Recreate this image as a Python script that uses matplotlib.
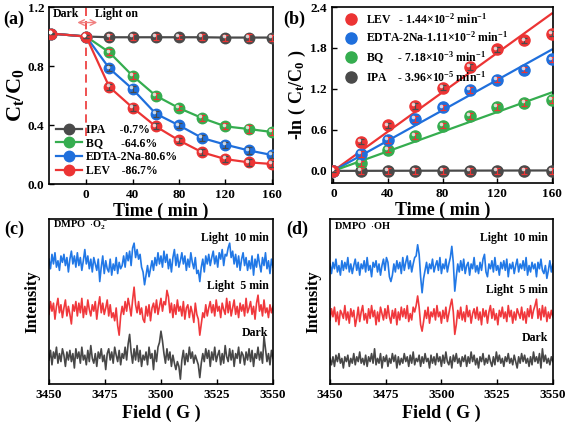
import numpy as np
import matplotlib
matplotlib.use('Agg')
import matplotlib.pyplot as plt
from matplotlib import transforms

plt.rcParams['font.family'] = ['Liberation Serif', 'DejaVu Serif']
plt.rcParams['font.weight'] = 'bold'
plt.rcParams['axes.labelweight'] = 'bold'
plt.rcParams['mathtext.fontset'] = 'custom'
plt.rcParams['mathtext.rm'] = 'Liberation Serif:bold'
plt.rcParams['mathtext.bf'] = 'Liberation Serif:bold'
plt.rcParams['mathtext.it'] = 'Liberation Serif:bold'
plt.rcParams['mathtext.default'] = 'bf'

# ---- panel (a): C/C0 vs time ----
time_a = [-30, 0, 20, 40, 60, 80, 100, 120, 140, 160]
ipa_c = [1.02, 1.00, 0.995, 0.995, 0.995, 0.995, 0.995, 0.993, 0.993, 0.993]
bq_c = [1.02, 1.00, 0.893, 0.734, 0.599, 0.515, 0.447, 0.391, 0.373, 0.353]
edta_c = [1.02, 1.00, 0.784, 0.644, 0.477, 0.398, 0.312, 0.267, 0.228, 0.197]
lev_c = [1.02, 1.00, 0.658, 0.518, 0.391, 0.296, 0.215, 0.169, 0.147, 0.136]
err_a = [0.005, 0.01, 0.02, 0.02, 0.02, 0.015, 0.02, 0.02, 0.025, 0.02]

# ---- panel (b): -ln(C/C0) vs time ----
time_b = [0, 20, 40, 60, 80, 100, 120, 140, 160]
lev_ln = [0.0, 0.428, 0.666, 0.948, 1.221, 1.522, 1.780, 1.911, 2.009]
edta_ln = [0.0, 0.248, 0.452, 0.759, 0.929, 1.182, 1.338, 1.483, 1.634]
bq_ln = [0.0, 0.112, 0.311, 0.511, 0.661, 0.807, 0.939, 0.997, 1.036]
ipa_ln = [0.0, 0.0, 0.0, 0.0, 0.0, 0.0, 0.0, 0.0, 0.0]
err_b = [0.01, 0.04, 0.04, 0.04, 0.04, 0.04, 0.04, 0.04, 0.04]
rate_k = {'LEV': 1.44e-2, 'EDTA-2Na': 1.11e-2, 'BQ': 7.18e-3, 'IPA': 3.96e-5}

# ---- panels (c),(d): EPR spectra (relative intensity) ----
field_start, field_end = 3450, 3550
o2_light10 = [2, -4, 5, -1, 6, -3, 1, -5, 4, 0,
              5, -2, 3, -6, 2, 7, -1, 4, -3, 6,
              -2, 3, -5, 1, 8, -1, 4, -4, 2, -6,
              3, -1, -5, 2, -12, -3, 4, -7, 1, -4,
              -6, 2, -8, -1, -5, 3, -7, 0, -4, -2,
              4, -3, 6, 1, 7, -2, 9, 12, 3, 8,
              2, 5, -3, -6, -14, -8, -2, -9, -4, 1,
              -5, 3, -2, 6, -1, 4, -3, 7, 0, 5,
              -4, 2, -6, 3, 8, -2, 5, -3, 1, 6,
              -1, 4, -5, 2, -3, 6, 0, -4, 3, -7,
              -5, -12, -3, 2, -6, 4, -1, 5, -2, 3,
              7, -1, 4, -3, 6, 2, 8, -2, 5, 4,
              9, 12, 3, 7, -1, 5, -3, 4, -5, 2,
              6, -2, 3, -5, 1, -4, 4, -8, 2, -3,
              5, -1, -6, 3, -2, 6, -4, 1, -7, 2,
              -3]
o2_light5 = [-3, 5, -1, 4, -6, 2, 7, -2, 3, -5,
             1, 6, -4, 2, -3, -9, 3, -1, 5, -4,
             4, -2, 7, -5, 2, -3, 6, 0, -4, 3,
             -1, 5, -6, 2, 8, -2, 4, -3, 1, 6,
             -4, 3, -5, -2, -7, 1, -10, -16, -4, 2,
             -3, 5, -1, 7, 2, -4, 6, 14, 3, -2,
             5, -3, 1, -6, -8, 2, -4, 3, -7, 1,
             4, -2, 6, -3, 2, 7, -1, 5, 3, 12,
             8, -2, 4, -5, 3, -3, 6, -1, 2, -4,
             5, -6, 1, 3, -5, 2, -2, -8, 4, -3,
             -6, -16, -9, -2, -5, 3, -4, 1, 5, -2,
             3, -4, 6, -1, 2, -5, 4, 0, -3, 7,
             -2, 5, -4, 1, 6, -3, 2, -5, 4, -1,
             3, -4, 7, -2, 1, 5, -3, 2, -6, 4,
             9, -1, 3, -4, 6, -2, 1, -5, 3, -2,
             2]
o2_dark = [-2, 4, -5, 3, -1, 6, -4, 2, -3, 5,
           1, -6, 3, -2, 4, -3, 2, -7, 5, -1,
           3, -4, 6, -2, 1, -5, 4, -3, 7, -1,
           -4, 2, -6, 3, -1, 5, -3, 1, -8, 2,
           5, -2, 3, -4, 6, 1, -3, 4, -5, 2,
           -1, 6, -2, 8, 14, 3, -4, 5, -2, 7,
           -3, 4, -6, 1, -2, 3, -5, 6, -1, 2,
           -8, 4, -3, 6, 9, 16, 10, 2, -4, 5,
           -2, 3, -6, 1, -4, -8, -3, -6, -14, -2,
           4, -5, 2, -3, 6, -1, 3, -4, 1, -2,
           -5, -13, -4, 2, -3, 5, -1, 4, -6, 3,
           -2, 6, -3, 1, 4, -5, 2, -4, 7, 0,
           -3, 5, -2, 4, -6, 2, -1, 6, -4, 3,
           1, -5, 3, -2, 5, -3, 4, -6, 2, -1,
           6, -2, 3, -4, 13, 5, -3, 2, -5, 4,
           -1]
oh_light10 = [2, -4, 3, -1, 5, -3, 1, -5, 4, -2,
              3, -1, 6, -3, 2, -4, 1, 5, -2, 3,
              -5, 2, -1, 4, -3, 6, -2, 1, -6, 3,
              0, 4, -3, 2, -5, 1, 5, -2, 6, 3,
              -6, -9, -5, 2, -3, 4, -1, 3, -4, 6,
              -2, 3, 7, -1, 4, -3, 2, 6, 7, 14,
              8, -6, -16, -7, -2, 3, -4, 2, -1, 5,
              -3, 1, 4, -2, 6, -4, 2, -1, 5, -3,
              2, 6, 13, 3, -15, -6, 2, -3, 4, -2,
              5, -4, 1, 3, -5, 2, -1, 6, -3, 1,
              -4, 3, -2, 5, 8, -3, -6, 2, -1, 4,
              -3, 6, -2, 1, -5, 3, -1, 4, -2, 5,
              -6, 2, -1, 3, -4, 1, 5, -3, 2, -1,
              4, -2, 6, -5, 1, -3, 3, -1, 2, -6,
              3, -1, 5, -2, -4, 1, -7, -2, 4, -3,
              2]
oh_light5 = [-3, 4, -1, 5, -4, 2, -6, 3, 1, -2,
             6, -3, 2, -5, 4, -1, 3, -7, -2, 5,
             -4, 2, 6, -3, 1, -5, 4, -2, 6, -1,
             3, -6, 2, -4, 5, 1, -3, 4, -2, 6,
             -1, -5, 3, -2, 4, -6, 2, -3, 5, -1,
             4, -2, 6, -4, 1, -3, 5, 2, 6, 12,
             5, -6, -10, -4, 3, -2, 5, -5, 2, -1,
             4, -3, 6, -1, 2, -5, 3, -2, 5, -4,
             1, 6, 10, 2, -12, -6, 3, -2, 5, -3,
             2, -4, 6, -1, 3, -5, 1, 4, -2, 5,
             -3, 2, -6, 4, -1, 3, -5, 2, 6, -2,
             4, -3, 1, -6, 3, -1, 5, -2, 2, -4,
             6, -1, 3, -5, 2, -3, 4, 1, -2, 5,
             -3, 2, -5, 4, -1, 6, -2, 3, 6, 10,
             -2, 4, -3, 6, -1, 5, -4, 2, -2, 3,
             -1]
oh_dark = [1, -3, 2, -4, 3, -1, 4, -2, 1, -5,
           2, -1, 3, -4, 1, -2, 4, -3, 2, -1,
           5, -2, 1, -3, 3, -4, 2, -1, 4, -2,
           7, -3, 1, -2, 4, -5, 2, -1, 3, -4,
           1, -2, 4, -1, 3, -5, 2, -3, 1, -2,
           4, -1, 2, -4, 3, -2, 5, -3, 1, -1,
           3, -4, 2, -2, 4, -1, 1, -5, 3, -2,
           2, -3, 4, -1, 2, -4, 3, -2, 5, -1,
           -3, 2, -5, 3, -1, 4, -2, 1, -4, 2,
           -1, 3, -4, 2, -2, 5, -1, 3, -3, 1,
           -5, 2, -1, 4, -3, 1, -2, 3, -1, -4,
           2, -3, 5, -1, 3, -2, 1, -4, 2, -1,
           4, -2, 1, -3, 3, -1, -5, 2, -2, 4,
           -1, 3, -2, 1, -4, 2, -3, 5, -1, 2,
           -2, 4, -5, 7, -1, 3, -2, 1, -3, 2,
           -1]

RED = '#ec3434'
BLUE = '#1f6fdc'
GREEN = '#35ad4f'
DARK = '#4a4a4a'
EPR_BLUE = '#2178e6'
EPR_RED = '#f0383c'
EPR_DARK = '#474747'


def style_axis(ax):
    ax.tick_params(direction='in', labelsize=9.5, width=1.0, length=3.5)
    for s in ax.spines.values():
        s.set_linewidth(1.2)
    for lab in ax.get_xticklabels() + ax.get_yticklabels():
        lab.set_fontweight('bold')


def shine(ax, x, y):
    # small white spot on each marker so they look like balls
    tr = transforms.offset_copy(ax.transData, fig=ax.figure, x=-1.3, y=1.3,
                                units='points')
    ax.plot(x, y, 'o', ms=2.6, color='white', alpha=0.75, mew=0,
            transform=tr, zorder=5)


fig = plt.figure(figsize=(5.67, 4.26), dpi=100)
ax_a = fig.add_axes([0.0864, 0.568, 0.395, 0.4155])
ax_b = fig.add_axes([0.5855, 0.570, 0.390, 0.4135])
ax_c = fig.add_axes([0.0864, 0.0986, 0.395, 0.387])
ax_d = fig.add_axes([0.582, 0.0986, 0.393, 0.387])

# ---- (a) ----
series_a = [('IPA     -0.7%', ipa_c, DARK, RED),
            ('BQ      -64.6%', bq_c, GREEN, RED),
            ('EDTA-2Na-80.6%', edta_c, BLUE, DARK),
            ('LEV    -86.7%', lev_c, RED, DARK)]
for label, vals, col, ecol in series_a:
    ax_a.plot(time_a, vals, '-o', color=col, lw=1.6, ms=7.5, mec=col,
              label=label, zorder=3)
    ax_a.errorbar(time_a, vals, yerr=err_a, fmt='none', ecolor=ecol,
                  elinewidth=0.9, capsize=2, capthick=0.9, zorder=4)
    shine(ax_a, time_a, vals)
ax_a.axvline(0, ymin=0.27, ymax=1, color=RED, ls=(0, (5, 3)), lw=1.2, zorder=2)
ax_a.annotate('', xy=(-10, 1.095), xytext=(12, 1.095),
              arrowprops=dict(arrowstyle='<->', color='#f08080', lw=1.0))
ax_a.text(-29, 1.15, 'Dark', fontsize=8.5, fontweight='bold', va='center')
ax_a.text(8, 1.15, 'Light on', fontsize=8.5, fontweight='bold', va='center')
ax_a.set_xlim(-32, 161)
ax_a.set_ylim(0, 1.2)
ax_a.set_xticks([0, 40, 80, 120, 160])
ax_a.set_yticks([0.0, 0.4, 0.8, 1.2])
ax_a.set_xlabel('Time ( min )', fontsize=13, labelpad=1)
ax_a.set_ylabel(r'C$_t$/C$_0$', fontsize=16, labelpad=1)
ax_a.legend(loc='lower left', frameon=False, handlelength=2.2,
            labelspacing=0.15, borderaxespad=0.2, handletextpad=0.3,
            prop={'weight': 'bold', 'size': 8.5})
style_axis(ax_a)

# ---- (b) ----
series_b = [('LEV', lev_ln, RED, DARK, r'   - 1.44×10$^{-2}$ min$^{-1}$'),
            ('EDTA-2Na', edta_ln, BLUE, RED, r'-1.11×10$^{-2}$ min$^{-1}$'),
            ('BQ', bq_ln, GREEN, RED, r'     - 7.18×10$^{-3}$ min$^{-1}$'),
            ('IPA', ipa_ln, DARK, RED, r'    - 3.96×10$^{-5}$ min$^{-1}$')]
tfit = np.array([0, 160])
for name, vals, col, ecol, ktext in series_b:
    ax_b.plot(tfit, rate_k[name] * tfit, '-', color=col, lw=1.6, zorder=2)
for name, vals, col, ecol, ktext in series_b[::-1]:
    ax_b.plot(time_b, vals, 'o', color=col, ms=8, mec=col, zorder=3,
              label=name + ktext)
    ax_b.errorbar(time_b, vals, yerr=err_b, fmt='none', ecolor=ecol,
                  elinewidth=0.9, capsize=2, capthick=0.9, zorder=4)
    shine(ax_b, time_b, vals)
h, l = ax_b.get_legend_handles_labels()
ax_b.legend(h[::-1], l[::-1], loc='upper left', frameon=False, handlelength=1.0,
            labelspacing=0.35, borderaxespad=0.0, handletextpad=0.7,
            bbox_to_anchor=(0.04, 1.0),
            prop={'weight': 'bold', 'size': 8.5})
ax_b.set_xlim(-1, 161)
ax_b.set_ylim(-0.18, 2.4)
ax_b.set_xticks([0, 40, 80, 120, 160])
ax_b.set_yticks([0.0, 0.6, 1.2, 1.8, 2.4])
ax_b.set_xlabel('Time ( min )', fontsize=13, labelpad=1)
ax_b.set_ylabel(r'-ln ( C$_t$/C$_0$ )', fontsize=13, labelpad=2)
style_axis(ax_b)

# ---- (c) and (d) ----
field = np.linspace(field_start, field_end, len(o2_dark))
epr_panels = [
    (ax_c, [o2_light10, o2_light5, o2_dark], [59, 29.5, 0],
     [74, 44, 15], r'DMPO  $\cdot$O$_2^-$'),
    (ax_d, [oh_light10, oh_light5, oh_dark], [56, 26, -2],
     [74, 42, 12], r'DMPO  $\cdot$OH'),
]
for ax, traces, offsets, label_y, title in epr_panels:
    for vals, off, col in zip(traces, offsets, [EPR_BLUE, EPR_RED, EPR_DARK]):
        ax.plot(field, np.array(vals) + off, color=col, lw=1.2)
    for txt, yy in zip(['Light  10 min', 'Light  5 min', 'Dark'], label_y):
        ax.text(3548, yy, txt, ha='right', va='center', fontsize=8.5,
                fontweight='bold')
    ax.text(3452, 82, title, ha='left', va='center', fontsize=7.5,
            fontweight='bold')
    ax.set_xlim(field_start, field_end)
    ax.set_ylim(-17, 86)
    ax.set_xticks([3450, 3475, 3500, 3525, 3550])
    ax.set_yticks([])
    ax.set_xlabel('Field ( G )', fontsize=13, labelpad=3)
    ax.set_ylabel('Intensity', fontsize=12, labelpad=6)
    style_axis(ax)

fig.text(0.005, 0.955, '(a)', fontsize=13, fontweight='bold', va='center')
fig.text(0.499, 0.955, '(b)', fontsize=13, fontweight='bold', va='center')
fig.text(0.008, 0.462, '(c)', fontsize=13, fontweight='bold', va='center')
fig.text(0.505, 0.462, '(d)', fontsize=13, fontweight='bold', va='center')

fig.savefig('out.png', dpi=100)
